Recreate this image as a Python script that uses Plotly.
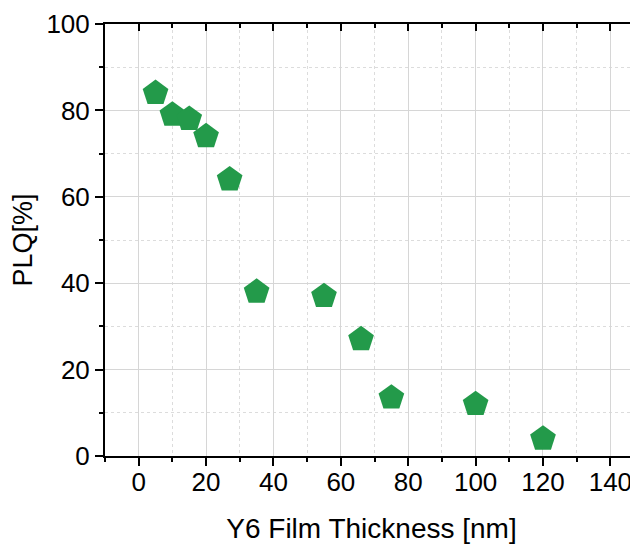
import plotly.graph_objects as go

thickness_nm = [5, 10, 15, 20, 27, 35, 55, 66, 75, 100, 120]
plq_percent = [84, 79, 78, 74, 64, 38, 37, 27, 13.5, 12, 4]

x_range = [-10, 148.2]
y_range = [0, 100]
font_family = "Liberation Sans, Arial, sans-serif"
grid_major = "#d6d6d6"
grid_minor = "#dcdcdc"

fig = go.Figure()
fig.add_trace(go.Scatter(
    x=thickness_nm, y=plq_percent, mode="markers",
    marker=dict(symbol="pentagon", size=27, color="#239a4a", line=dict(width=0)),
    showlegend=False, xaxis="x", yaxis="y",
))
fig.add_trace(go.Scatter(x=[None], y=[None], xaxis="x2", yaxis="y", showlegend=False))
fig.add_trace(go.Scatter(x=[None], y=[None], xaxis="x", yaxis="y2", showlegend=False))

fig.update_layout(
    width=630, height=540,
    margin=dict(l=97, r=0, t=16, b=92, autoexpand=False),
    paper_bgcolor="white", plot_bgcolor="white",
    font=dict(family=font_family, size=26, color="black"),
    xaxis=dict(
        range=x_range, tickmode="linear", tick0=0, dtick=20,
        showline=True, linecolor="black", linewidth=2,
        ticks="outside", ticklen=8, tickwidth=2, tickcolor="black",
        ticklabelstandoff=-6,
        showgrid=True, gridcolor=grid_major, gridwidth=1,
        zeroline=False, automargin=False,
        minor=dict(dtick=10, tick0=0, ticks="outside", ticklen=4, tickwidth=2,
                   tickcolor="black", showgrid=True, gridcolor=grid_minor,
                   griddash="dot", gridwidth=1),
        title=dict(text="Y6 Film Thickness [nm]", standoff=22, font=dict(size=28)),
        tickfont=dict(size=26),
    ),
    xaxis2=dict(
        range=x_range, overlaying="x", side="top", tickmode="linear", tick0=0, dtick=20,
        showline=True, linecolor="black", linewidth=2,
        ticks="inside", ticklen=7, tickwidth=2, tickcolor="black",
        showticklabels=False, showgrid=False, zeroline=False,
        minor=dict(dtick=10, tick0=0, ticks="inside", ticklen=4, tickwidth=2, tickcolor="black"),
    ),
    yaxis=dict(
        range=y_range, tickmode="linear", tick0=0, dtick=20,
        showline=True, linecolor="black", linewidth=2,
        ticks="outside", ticklen=8, tickwidth=2, tickcolor="black",
        ticklabeloverflow="allow",
        showgrid=True, gridcolor=grid_major, gridwidth=1,
        zeroline=False, automargin=False,
        minor=dict(dtick=10, tick0=0, ticks="outside", ticklen=4, tickwidth=2,
                   tickcolor="black", showgrid=True, gridcolor=grid_minor,
                   griddash="dot", gridwidth=1),
        title=dict(text="PLQ[%]", standoff=18, font=dict(size=27)),
        tickfont=dict(size=26),
    ),
    yaxis2=dict(
        range=y_range, overlaying="y", side="right", tickmode="linear", tick0=0, dtick=20,
        showline=False, ticks="inside", ticklen=2, tickwidth=2, tickcolor="black",
        showticklabels=False, showgrid=False, zeroline=False,
    ),
)

fig.write_html("out.html")
